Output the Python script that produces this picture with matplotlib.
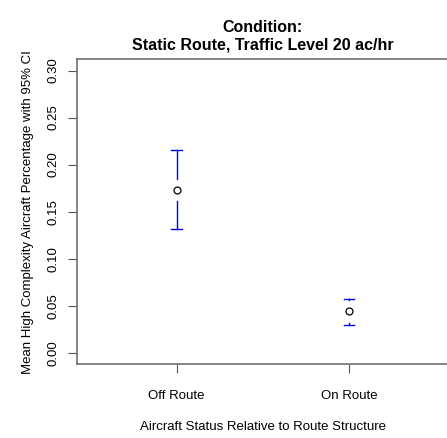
import matplotlib
matplotlib.use('Agg')
import matplotlib.pyplot as plt

plt.rcParams['font.family'] = ['Liberation Sans', 'DejaVu Sans']

# values
groups = ['Off Route', 'On Route']
means = [0.173, 0.0438]
ci_low = [0.132, 0.0294]
ci_high = [0.215, 0.0573]
yticks = [0.00, 0.05, 0.10, 0.15, 0.20, 0.25, 0.30]

fig = plt.figure(figsize=(4.47, 4.38), dpi=100)
ax = fig.add_axes([0.1723, 0.169, 0.8315, 0.6957])

x = [1, 2]
gap = 0.0117   # blank space around the mean circle
cap = 0.029

for xi, m, lo, hi in zip(x, means, ci_low, ci_high):
    if hi > m + gap:
        ax.plot([xi, xi], [m + gap, hi], color='blue', lw=1)
    if lo < m - gap:
        ax.plot([xi, xi], [lo, m - gap], color='blue', lw=1)
    ax.plot([xi - cap, xi + cap], [hi, hi], color='blue', lw=1)
    ax.plot([xi - cap, xi + cap], [lo, lo], color='blue', lw=1)

ax.plot(x, means, 'o', mfc='none', mec='black', ms=5, mew=0.9, ls='none')

ax.set_xlim(0.424, 2.576)
ax.set_ylim(-0.012, 0.312)
ax.set_xticks(x)
ax.set_xticklabels(groups)
ax.set_yticks(yticks)
ax.set_yticklabels(['%.2f' % v for v in yticks], rotation=90, va='center')

for s in ax.spines.values():
    s.set_color('#707070')
    s.set_linewidth(1.2)
ax.tick_params(length=6.5, width=0.8, color='#555555', labelsize=9.5)
ax.tick_params(axis='x', pad=12)
ax.tick_params(axis='y', pad=6)

ax.set_xlabel('Aircraft Status Relative to Route Structure', fontsize=9.5, labelpad=14)
ax.set_ylabel('Mean High Complexity Aircraft Percentage with 95% CI', fontsize=9.5, labelpad=10)
ax.set_title('Condition:\nStatic Route, Traffic Level 20 ac/hr', fontsize=11.5,
             fontweight='bold', pad=7)

fig.savefig('out.png', dpi=100)
